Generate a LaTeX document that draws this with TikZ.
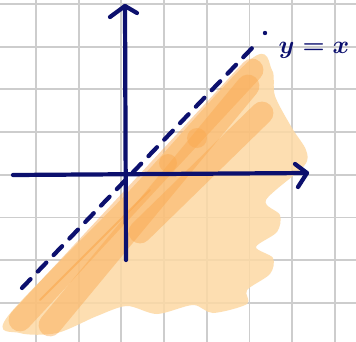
\documentclass[tikz,border=0pt]{standalone}
\usetikzlibrary{calc}
\definecolor{ink}{RGB}{12,16,110}
\definecolor{gridgray}{RGB}{205,205,205}
\definecolor{peach}{RGB}{253,217,164}
\definecolor{tangerine}{RGB}{250,168,78}
\tikzset{
  gridline/.style={draw=gridgray, line width=1.1pt},
  axis/.style={draw=ink, line width=2.4pt, line cap=round, line join=round},
  diag/.style={draw=ink, line width=2.4pt, line cap=round, dash pattern=on 7pt off 6pt},
  wash/.style={fill=peach, fill opacity=0.85},
  brush/.style={draw=tangerine, draw opacity=0.45, line width=13pt, line cap=round},
  dab/.style={fill=tangerine, fill opacity=0.45},
  lab/.style={text=ink, inner sep=0pt, font=\fontsize{15}{15}\selectfont\boldmath}
}
\begin{document}
\begin{tikzpicture}[x=0.02cm,y=-0.02cm]
\useasboundingbox[fill=white] (0,0) rectangle (356,342);

% grid
\foreach \i in {0,...,7}{
  \draw[gridline] ({36+42.7*\i},0) -- ({36+42.7*\i},342);
  \draw[gridline] (0,{4+42.7*\i}) -- (356,{4+42.7*\i});
}

% shaded region
\path[wash] plot[smooth cycle, tension=0.5] coordinates {
  (8,316) (130,190) (250,60) (272,70) (275,96) (292,128) (306,150)
  (304,166) (266,200) (280,215) (277,232) (256,247) (273,258) (270,274)
  (247,290) (247,304) (213,313) (193,305) (157,314) (127,306) (97,316)
  (57,333) (20,333)};
\draw[brush] (20,320) -- (252,70);
\draw[brush] (50,325) -- (248,86);
\draw[brush] (140,232) -- (262,113);
\draw[brush, line width=1.2pt, draw opacity=0.6] (40,300) -- (150,190);
\fill[dab] (197,138) circle (10);
\fill[dab] (168,163) circle (9);

% axes
\coordinate (xl) at (13,175);
\coordinate (xr) at (307,173);
\coordinate (yb) at (126,260);
\coordinate (yt) at (125,6);
\draw[axis] (xl) -- (xr);
\draw[axis] (295,164) -- (xr) -- (298,187);
\draw[axis] (yb) -- (yt);
\draw[axis] (110,17) -- (yt) -- (137,13);

% y = x
\coordinate (dl) at (22,288);
\coordinate (dr) at (255,45);
\draw[diag] (dl) -- (dr);
\fill[ink] (265,33) circle (2.2);
\node[lab] (lbl) at (314,50) {$y=x$};
\end{tikzpicture}
\end{document}
